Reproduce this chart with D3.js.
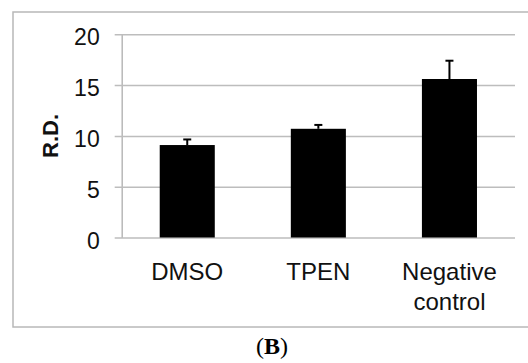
<!DOCTYPE html>
<html>
<head>
<meta charset="utf-8">
<script src="https://cdn.jsdelivr.net/npm/d3@7"></script>
<style>
  body { margin: 0; background: #fff; }
  text { font-family: "Liberation Sans", Arial, sans-serif; }
</style>
</head>
<body>
<script>
var categories = ["DMSO", "TPEN", "Negative control"];
var values = [9.1, 10.7, 15.6];
var errors = [0.55, 0.38, 1.8];
var yTicks = [0, 5, 10, 15, 20];

var w = 528, h = 363;
var plotL = 121.7, plotR = 515, plotT = 34.3, plotB = 237.5;

var svg = d3.select("body").append("svg")
  .attr("width", w)
  .attr("height", h);

// outer frame
svg.append("rect")
  .attr("x", 13).attr("y", 12)
  .attr("width", 540).attr("height", 315)
  .attr("fill", "none")
  .attr("stroke", "#b8b8b8")
  .attr("stroke-width", 1.5);

var x = d3.scaleBand()
  .domain(categories)
  .range([plotL, plotR])
  .paddingInner(0.58)
  .paddingOuter(0.29);

var y = d3.scaleLinear()
  .domain([0, 20])
  .range([plotB, plotT]);

// gridlines + ticks
var yAxis = d3.axisLeft(y)
  .tickValues(yTicks)
  .tickSize(-(plotR - plotL))
  .tickSizeOuter(0)
  .tickPadding(0);

var gy = svg.append("g")
  .attr("transform", "translate(" + plotL + ",0)")
  .call(yAxis);
gy.select(".domain").attr("stroke", "#b8b8b8").attr("stroke-width", 1.5);
gy.selectAll(".tick line")
  .attr("x1", -7)
  .attr("stroke", "#bdbdbd")
  .attr("stroke-width", 1.5);
gy.selectAll(".tick text")
  .attr("x", -22)
  .attr("dy", "0.46em")
  .attr("fill", "#111")
  .attr("font-size", "23px")
  .attr("font-family", "Liberation Sans, Arial, sans-serif");

// bars
svg.selectAll("rect.bar")
  .data(values)
  .enter()
  .append("rect")
  .attr("class", "bar")
  .attr("x", function(d, i) { return x(categories[i]); })
  .attr("y", function(d) { return y(d); })
  .attr("width", x.bandwidth())
  .attr("height", function(d) { return y(0) - y(d); })
  .attr("fill", "#000");

// error bars (upper only)
var eb = svg.selectAll("g.err")
  .data(values)
  .enter()
  .append("g")
  .attr("class", "err")
  .attr("stroke", "#000")
  .attr("stroke-width", 2);
eb.append("line")
  .attr("x1", function(d, i) { return x(categories[i]) + x.bandwidth() / 2; })
  .attr("x2", function(d, i) { return x(categories[i]) + x.bandwidth() / 2; })
  .attr("y1", function(d) { return y(d); })
  .attr("y2", function(d, i) { return y(d + errors[i]); });
eb.append("line")
  .attr("x1", function(d, i) { return x(categories[i]) + x.bandwidth() / 2 - 4; })
  .attr("x2", function(d, i) { return x(categories[i]) + x.bandwidth() / 2 + 4; })
  .attr("y1", function(d, i) { return y(d + errors[i]); })
  .attr("y2", function(d, i) { return y(d + errors[i]); });

// category labels
var lab = svg.selectAll("text.cat")
  .data(categories)
  .enter()
  .append("text")
  .attr("class", "cat")
  .attr("text-anchor", "middle")
  .attr("font-size", "24px")
  .attr("fill", "#111")
  .attr("transform", function(d) { return "translate(" + (x(d) + x.bandwidth() / 2) + ",280)"; });
lab.each(function(d) {
  var words = d === "Negative control" ? ["Negative", "control"] : [d];
  var t = d3.select(this);
  words.forEach(function(wd, k) {
    t.append("tspan").attr("x", 0).attr("y", k * 30).text(wd);
  });
});

// y title
svg.append("text")
  .attr("transform", "translate(58," + ((plotT + plotB) / 2) + ") rotate(-90)")
  .attr("text-anchor", "middle")
  .attr("font-size", "22px")
  .attr("font-weight", "bold")
  .attr("fill", "#111")
  .text("R.D.");

// panel label
var pl = svg.append("text")
  .attr("x", 272).attr("y", 354)
  .attr("text-anchor", "middle")
  .attr("font-size", "24px")
  .attr("fill", "#000")
  .style("font-family", "Liberation Serif, Times New Roman, serif");
pl.append("tspan").text("(");
pl.append("tspan").attr("font-weight", "bold").text("B");
pl.append("tspan").text(")");
</script>
</body>
</html>
